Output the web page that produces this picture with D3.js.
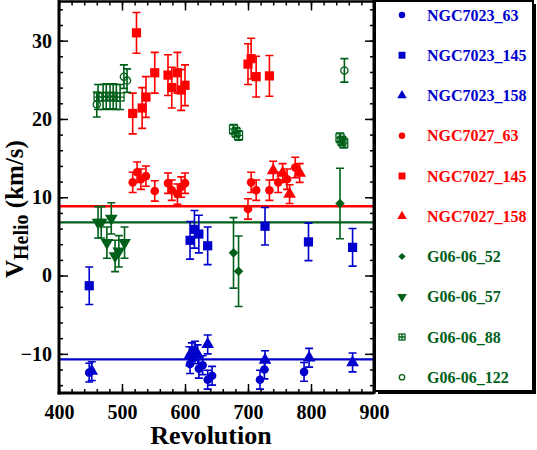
<!DOCTYPE html>
<html><head><meta charset="utf-8">
<script src="https://cdn.jsdelivr.net/npm/d3@7"></script>
<style>
body{margin:0;background:#fff}
svg{display:block}
text{font-family:"Liberation Serif","Times New Roman",serif;font-weight:bold}
</style>
</head><body>
<svg id="c" width="537" height="450"></svg>
<script>
// ---- data ----
const xTickValues=[400,500,600,700,800,900];
const yTickValues=[-10,0,10,20,30];
const seriesNames=["NGC7023_63","NGC7023_145","NGC7023_158","NGC7027_63","NGC7027_145","NGC7027_158","G06-06_52","G06-06_57","G06-06_88","G06-06_122"];
// [revolution, velocity, error]
const NGC7023_63=[[448,-12.4,1.2],[608,-11.3,1.2],[622,-11.9,1.2],[628,-11.45,1.2],[636,-13.3,1.2],[643,-12.8,1.2],[719,-13.3,1.2],[726,-12.0,1.2],[789,-12.3,1.2]];
const NGC7023_145=[[448,-1.3,2.4],[608,4.5,2.4],[615,5.9,2.4],[622,5.3,2.4],[636,3.8,2.4],[727,6.3,2.4],[796,4.3,2.4],[866,3.6,2.4]];
const NGC7023_158=[[452,-12.2,1.2],[607,-10.3,1.2],[611,-9.8,1.2],[616,-9.6,1.2],[620,-10.05,1.2],[636,-8.8,1.2],[727,-10.8,1.2],[797,-10.5,1.2],[866,-11.1,1.2]];
const NGC7027_63=[[517,11.9,1.3],[524,13.2,1.3],[530,12.3,1.3],[538,12.7,1.3],[552,10.8,1.3],[573,11.8,1.3],[579,10.9,1.3],[588,10.4,1.3],[594,11.3,1.3],[600,11.8,1.3],[700,8.5,1.3],[705,11.9,1.3],[713,10.9,1.3],[734,10.9,1.3],[748,11.9,1.3],[762,12.3,1.3],[775,13.8,1.3]];
const NGC7027_145=[[517,20.7,2.6],[523,31.0,2.6],[532,21.4,2.6],[538,22.8,2.6],[552,25.9,2.6],[573,25.6,2.6],[579,24.0,2.6],[588,25.9,2.6],[594,23.7,2.6],[600,24.3,2.6],[700,27.0,2.6],[705,27.7,2.6],[713,25.4,2.6],[734,25.5,2.6]];
const NGC7027_158=[[740,13.4,1.2],[755,13.1,1.2],[766,10.4,1.2],[782,13.1,1.2]];
const G06_06_52=[[677,2.9,4.5],[685,0.55,4.5],[846,9.2,4.5]];
const G06_06_57=[[462,6.8,2.0],[467,6.8,2.0],[476,4.2,2.0],[483,7.3,2.0],[489,2.5,2.0],[495,3.1,2.0],[504,4.2,2.0]];
const G06_06_88=[[462,22.8,1.6],[470,22.8,1.6],[475,22.9,1.6],[481,22.8,1.6],[486,22.9,1.6],[491,22.8,1.6],[497,22.8,1.6],[677,18.7,0.6],[681,18.3,0.6],[685,17.9,0.6],[846,17.6,0.6],[849,17.2,0.6],[852,16.9,0.6]];
const G06_06_122=[[460,21.85,1.6],[503,25.4,1.5],[508,24.9,1.5],[853,26.2,1.5]];
const refLines=[{v:8.85,c:"red"},{v:6.8,c:"green"},{v:-10.7,c:"blue"}];

// ---- styles ----
const COL={blue:"#0000cc",red:"#ff0000",green:"#00601a"};
const FONT="'Liberation Serif','Times New Roman',serif";
const series=[
 {name:seriesNames[0],data:NGC7023_63,col:"blue",sym:"circle"},
 {name:seriesNames[1],data:NGC7023_145,col:"blue",sym:"square"},
 {name:seriesNames[2],data:NGC7023_158,col:"blue",sym:"triangle"},
 {name:seriesNames[3],data:NGC7027_63,col:"red",sym:"circle"},
 {name:seriesNames[4],data:NGC7027_145,col:"red",sym:"square"},
 {name:seriesNames[5],data:NGC7027_158,col:"red",sym:"triangle"},
 {name:seriesNames[6],data:G06_06_52,col:"green",sym:"diamond"},
 {name:seriesNames[7],data:G06_06_57,col:"green",sym:"tridown"},
 {name:seriesNames[8],data:G06_06_88,col:"green",sym:"gridsq"},
 {name:seriesNames[9],data:G06_06_122,col:"green",sym:"ocircle"}
];

const svg=d3.select("#c");
const x=d3.scaleLinear().domain([400,900]).range([59,374]);
const y=d3.scaleLinear().domain([-15,35]).range([393,1.5]);

// symbols
function drawSym(g,sym,c,s){
  const k=s||1;
  if(sym==="circle") g.append("circle").attr("r",4.3*k).attr("fill",c);
  else if(sym==="square") g.append("rect").attr("x",-4.6*k).attr("y",-4.6*k).attr("width",9.2*k).attr("height",9.2*k).attr("fill",c);
  else if(sym==="triangle") g.append("path").attr("d",d3.symbol(d3.symbolTriangle,70*k*k)()).attr("fill",c);
  else if(sym==="tridown") g.append("path").attr("d",d3.symbol(d3.symbolTriangle,70*k*k)()).attr("transform","rotate(180)").attr("fill",c);
  else if(sym==="diamond") g.append("path").attr("d",`M0,${-4.8*k}L${4.8*k},0L0,${4.8*k}L${-4.8*k},0Z`).attr("fill",c);
  else if(sym==="ocircle") g.append("circle").attr("r",3.6*k).attr("fill","none").attr("stroke",c).attr("stroke-width",1.3);
  else if(sym==="gridsq"){
    const h=4*k;
    g.append("rect").attr("x",-h).attr("y",-h).attr("width",2*h).attr("height",2*h).attr("fill","none").attr("stroke",c).attr("stroke-width",1.3);
    g.append("path").attr("d",`M${-h},0H${h}M0,${-h}V${h}`).attr("stroke",c).attr("stroke-width",1.3);
  }
}

// reference lines
svg.selectAll("line.ref").data(refLines).join("line").attr("class","ref")
  .attr("x1",x(400)).attr("x2",x(900)).attr("y1",d=>y(d.v)).attr("y2",d=>y(d.v))
  .attr("stroke",d=>COL[d.c]).attr("stroke-width",2.3);

// error bars
series.forEach(s=>{
  const c=COL[s.col];
  const g=svg.append("g").attr("stroke",c).attr("stroke-width",1.6).attr("fill","none");
  s.data.forEach(d=>{
    const px=x(d[0]),y1=y(d[1]+d[2]),y2=y(d[1]-d[2]);
    g.append("path").attr("d",`M${px},${y1}V${y2}M${px-4},${y1}H${px+4}M${px-4},${y2}H${px+4}`);
  });
});
// symbols
series.forEach(s=>{
  const c=COL[s.col];
  s.data.forEach(d=>{
    const g=svg.append("g").attr("transform",`translate(${x(d[0])},${y(d[1])})`);
    drawSym(g,s.sym,c,1);
  });
});

// axes
function ax(gen,tr,vals,size,fmt,pad){
  const g=svg.append("g").attr("transform",tr).call(gen.tickValues(vals).tickSizeInner(size).tickSizeOuter(0).tickPadding(pad||3).tickFormat(fmt));
  g.attr("font-family",FONT).attr("font-size",20);
  g.select(".domain").remove();
  g.selectAll(".tick line").attr("stroke","#000").attr("stroke-width",1.5);
  return g;
}
const minorX=d3.range(400,901,20), minorY=d3.range(-14,35,2);
const none=()=>"";
ax(d3.axisBottom(x),"translate(0,393)",minorX,-4,none);
ax(d3.axisTop(x),"translate(0,1.5)",minorX,-4,none);
ax(d3.axisLeft(y),"translate(59,0)",minorY,-4,none);
ax(d3.axisRight(y),"translate(374,0)",minorY,-4,none);
ax(d3.axisTop(x),"translate(0,1.5)",xTickValues,-9,none);
ax(d3.axisRight(y),"translate(374,0)",yTickValues,-9,none);
const bx=ax(d3.axisBottom(x),"translate(0,393)",xTickValues,-9,d3.format("d"),12);
const ly=ax(d3.axisLeft(y),"translate(59,0)",yTickValues,-9,d3.format("d"),7);
[bx,ly].forEach(g=>g.selectAll("text").attr("fill","#000").style("font-family",FONT).style("font-weight","bold").style("font-size","20px"));

// frame
svg.append("path").attr("d","M59,1.5H374").attr("stroke","#000").attr("stroke-width",2.5);
svg.append("path").attr("d","M374,0V394").attr("stroke","#000").attr("stroke-width",3);
svg.append("path").attr("d","M59,0V394.5").attr("stroke","#000").attr("stroke-width",3);
svg.append("path").attr("d","M57.5,393H374").attr("stroke","#000").attr("stroke-width",3);

// axis titles
svg.append("text").attr("x",211).attr("y",444).attr("text-anchor","middle").attr("font-size",26).text("Revolution");
const yt=svg.append("text").attr("transform","translate(23,278) rotate(-90)").attr("text-anchor","start");
yt.append("tspan").attr("font-size",25).text("V");
yt.append("tspan").attr("font-size",20).attr("dy",5).text("Helio");
yt.append("tspan").attr("font-size",25).attr("dy",-5).text(" (km/s)");

// legend
svg.append("rect").attr("x",378).attr("y",4).attr("width",158).attr("height",390).attr("fill","#000");
svg.append("rect").attr("x",375).attr("y",1).attr("width",158).attr("height",390).attr("fill","#fff").attr("stroke","#000").attr("stroke-width",2);
series.forEach((s,i)=>{
  const cy=15+i*40.25;
  const g=svg.append("g").attr("transform",`translate(402,${cy})`);
  drawSym(g,s.sym,COL[s.col],0.75);
  svg.append("text").attr("x",427).attr("y",cy+5.5).attr("font-size",16).attr("fill",COL[s.col]).text(s.name);
});
</script>
</body></html>
